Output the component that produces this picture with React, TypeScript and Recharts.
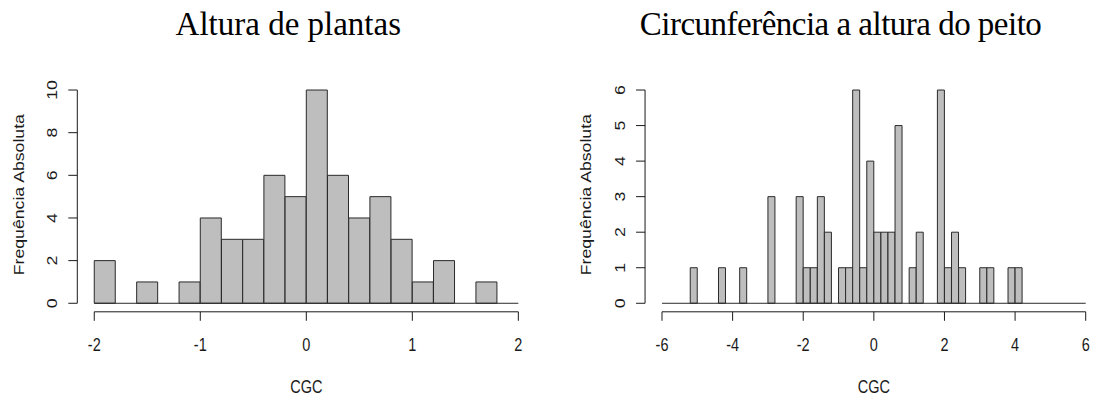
import React from 'react';
import { BarChart, Bar, XAxis, YAxis, ReferenceLine, Label } from 'recharts';

const TITLE_LEFT = 'Altura de plantas';
const TITLE_RIGHT = 'Circunferência a altura do peito';
const Y_TITLE = 'Frequência Absoluta';
const X_TITLE = 'CGC';

// histogram breaks: first break and bin width
const BIN_WIDTH = 0.2;
const LEFT_START = -2;
const RIGHT_START = -6;

// counts per bin
const leftCounts = [2, 0, 1, 0, 1, 4, 3, 3, 6, 5, 10, 6, 4, 5, 3, 1, 2, 0, 1, 0];
const rightCounts = [
  0, 0, 0, 0, 1, 0, 0, 0, 1, 0,
  0, 1, 0, 0, 0, 3, 0, 0, 0, 3,
  1, 1, 3, 2, 0, 1, 1, 6, 1, 4,
  2, 2, 2, 5, 0, 1, 2, 0, 0, 6,
  1, 2, 1, 0, 0, 1, 1, 0, 0, 1,
  1, 0, 0, 0, 0, 0, 0, 0, 0, 0,
];

const leftXTicks = [-2, -1, 0, 1, 2];
const leftYTicks = [0, 2, 4, 6, 8, 10];
const rightXTicks = [-6, -4, -2, 0, 2, 4, 6];
const rightYTicks = [0, 1, 2, 3, 4, 5, 6];

const INK = '#1a1a1a';
const BAR_FILL = '#bebebe';
const BAR_STROKE = '#2a2a2a';
const SANS = '"Liberation Sans", Arial, sans-serif';
const SERIF = '"Liberation Serif", "Times New Roman", serif';
const FONT = 14.5;
// the plots in the picture are stretched vertically, so their text is taller than wide
const STRETCH = 1.22;

const CHART_H = 398;
const PLOT_TOP = 81.5;
const PLOT_BOTTOM = 311.8;

// horizontal text centred on (x, y)
const flatText = (x: number, y: number, value: React.ReactNode) => (
  <text
    transform={`translate(${x} ${y}) scale(1 ${STRETCH})`}
    textAnchor="middle"
    dominantBaseline="central"
    fontFamily={SANS}
    fontSize={FONT}
    fill={INK}
  >
    {value}
  </text>
);

// text turned to read upwards, centred on (x, y)
const upText = (x: number, y: number, value: React.ReactNode) => (
  <text
    transform={`translate(${x} ${y}) rotate(-90) scale(${STRETCH} 1)`}
    textAnchor="middle"
    dominantBaseline="central"
    fontFamily={SANS}
    fontSize={FONT}
    fill={INK}
  >
    {value}
  </text>
);

const XTick = (props: any) => flatText(props.x, props.y, props.payload.value);
const YTick = (props: any) => upText(props.x, props.y, props.payload.value);

type HistProps = {
  counts: number[];
  start: number;
  xTicks: number[];
  yTicks: number[];
  left: number;
  width: number;
  plotLeft: number;
  plotRight: number;
};

function Histogram({ counts, start, xTicks, yTicks, left, width, plotLeft, plotRight }: HistProps) {
  const data = counts.map((count, i) => ({
    bin: (start + i * BIN_WIDTH).toFixed(1),
    mid: start + (i + 0.5) * BIN_WIDTH,
    count,
  }));
  const xMin = xTicks[0];
  const xMax = xTicks[xTicks.length - 1];
  const xExt = (xMax - xMin) * 0.04;
  const yMax = yTicks[yTicks.length - 1];
  const yExt = yMax * 0.04;
  // R widens the range by 4% on each side; the bins fill the inner part
  const pad = ((plotRight - plotLeft) * 0.04) / 1.08;

  return (
    <div style={{ position: 'absolute', left, top: 0, width, height: CHART_H }}>
      <BarChart
        width={width}
        height={CHART_H}
        data={data}
        barCategoryGap={0}
        barGap={0}
        margin={{ top: PLOT_TOP, right: width - plotRight, bottom: 0, left: 0 }}
      >
        <XAxis
          xAxisId="num"
          dataKey="mid"
          type="number"
          domain={[xMin - xExt, xMax + xExt]}
          ticks={xTicks}
          allowDataOverflow
          axisLine={false}
          tickLine={{ stroke: INK }}
          tickSize={9}
          tickMargin={23.2}
          height={CHART_H - PLOT_BOTTOM}
          tick={<XTick />}
        >
          <Label content={(p: any) => flatText(p.viewBox.x + p.viewBox.width / 2, p.viewBox.y + 75, X_TITLE)} />
        </XAxis>
        <XAxis xAxisId="bins" dataKey="bin" type="category" hide height={0} padding={{ left: pad, right: pad }} />
        <YAxis
          type="number"
          domain={[-yExt, yMax + yExt]}
          ticks={yTicks}
          allowDataOverflow
          width={plotLeft}
          axisLine={false}
          tickLine={{ stroke: INK }}
          tickSize={9}
          tickMargin={16.6}
          tick={<YTick />}
        >
          <Label
            content={(p: any) =>
              upText(p.viewBox.x + p.viewBox.width - 59, p.viewBox.y + p.viewBox.height / 2 - 2, Y_TITLE)
            }
          />
        </YAxis>
        <Bar xAxisId="bins" dataKey="count" fill={BAR_FILL} stroke={BAR_STROKE} strokeWidth={1} isAnimationActive={false} />
        {/* empty bins show as a line on zero */}
        <ReferenceLine xAxisId="num" segment={[{ x: xMin, y: 0 }, { x: xMax, y: 0 }]} stroke={BAR_STROKE} ifOverflow="visible" />
        {/* axis lines only span the tick range, as in R */}
        <ReferenceLine xAxisId="num" segment={[{ x: xMin, y: -yExt }, { x: xMax, y: -yExt }]} stroke={INK} ifOverflow="visible" />
        <ReferenceLine xAxisId="num" segment={[{ x: xMin - xExt, y: 0 }, { x: xMin - xExt, y: yMax }]} stroke={INK} ifOverflow="visible" />
      </BarChart>
    </div>
  );
}

export default function App() {
  return (
    <div style={{ position: 'absolute', left: 0, top: 0, width: 1096, height: CHART_H, overflow: 'hidden', background: '#fff' }}>
      <Histogram counts={leftCounts} start={LEFT_START} xTicks={leftXTicks} yTicks={leftYTicks} left={0} width={548} plotLeft={77.3} plotRight={535.3} />
      <Histogram counts={rightCounts} start={RIGHT_START} xTicks={rightXTicks} yTicks={rightYTicks} left={548} width={560} plotLeft={97.05} plotRight={554.65} />
      <svg width={1096} height={60} style={{ position: 'absolute', left: 0, top: 0 }}>
        <text x={288.3} y={35} textAnchor="middle" fontFamily={SERIF} fontSize={33} fill="#000">
          {TITLE_LEFT}
        </text>
        <text x={840.8} y={35} textAnchor="middle" fontFamily={SERIF} fontSize={33} fill="#000" textLength={402} lengthAdjust="spacing">
          {TITLE_RIGHT}
        </text>
      </svg>
    </div>
  );
}
